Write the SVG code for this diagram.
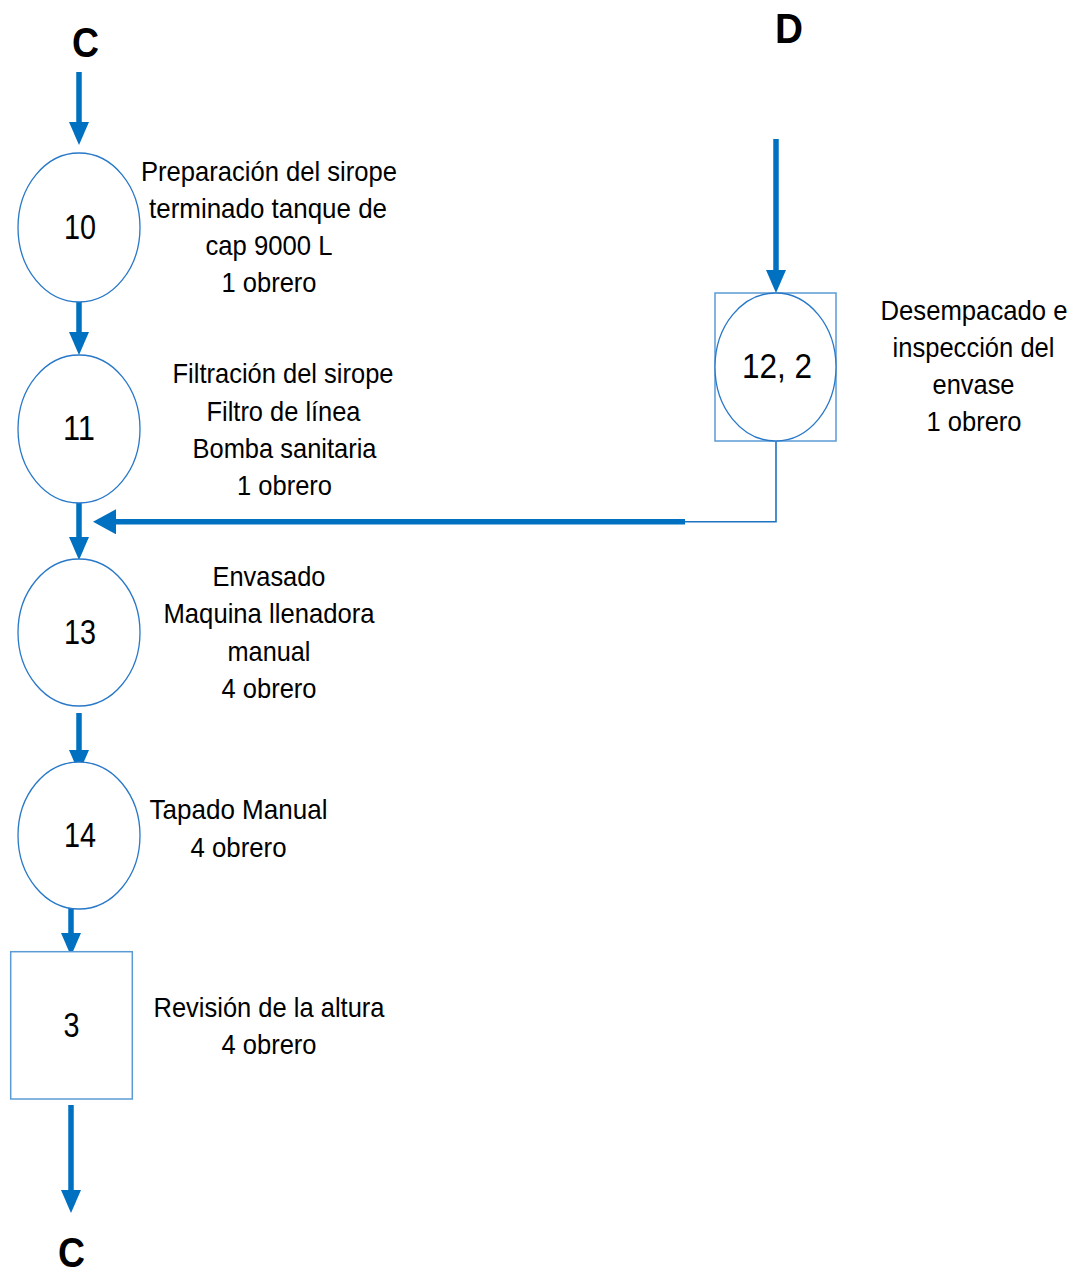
<svg xmlns="http://www.w3.org/2000/svg" width="1078" height="1270" viewBox="0 0 1078 1270">
  <style>
    text { font-family: "Liberation Sans", Arial, sans-serif; fill: #000; text-anchor: middle; }
    .lbl { font-size: 28px; }
    .num { font-size: 35px; }
    .ref { font-size: 42px; font-weight: bold; }
    .op { fill: #fff; stroke: #2878C8; stroke-width: 1.3; }
    .box { fill: #fff; stroke: #5B9BD5; stroke-width: 1.5; }
    .flow { fill: none; stroke: #0070C0; stroke-width: 5.5; }
    .thin { fill: none; stroke: #1E72C0; stroke-width: 1.6; }
  </style>
  <defs>
    <marker id="head" viewBox="0 0 23 20" refX="0" refY="10" markerWidth="23" markerHeight="20" markerUnits="userSpaceOnUse" orient="auto">
      <path d="M0,0 L23,10 L0,20 Z" fill="#0070C0"/>
    </marker>
    <marker id="headWide" viewBox="0 0 23 25" refX="0" refY="12.5" markerWidth="23" markerHeight="25" markerUnits="userSpaceOnUse" orient="auto">
      <path d="M0,0 L23,12.5 L0,25 Z" fill="#0070C0"/>
    </marker>
  </defs>

  <rect width="1078" height="1270" fill="#fff"/>

  <!-- off-page references -->
  <g id="ref-c-top"><text class="ref" x="85.5" y="57" textLength="27" lengthAdjust="spacingAndGlyphs">C</text></g>
  <g id="ref-d"><text class="ref" x="789" y="43" font-size="45" textLength="28" lengthAdjust="spacingAndGlyphs">D</text></g>
  <g id="ref-c-bottom"><text class="ref" x="71.5" y="1267" textLength="27" lengthAdjust="spacingAndGlyphs">C</text></g>

  <!-- connectors -->
  <g id="connectors">
    <line class="flow" x1="79" y1="72" x2="79" y2="122" marker-end="url(#head)"/>
    <line class="flow" x1="79" y1="293" x2="79" y2="332" marker-end="url(#head)"/>
    <line class="flow" x1="79" y1="503" x2="79" y2="537" marker-end="url(#head)"/>
    <line class="flow" x1="79" y1="713" x2="79" y2="750" marker-end="url(#head)"/>
    <line class="flow" x1="71" y1="895" x2="71" y2="933" marker-end="url(#head)"/>
    <line class="flow" x1="71" y1="1105" x2="71" y2="1190" marker-end="url(#head)"/>
    <line class="flow" x1="776" y1="139" x2="776" y2="270" marker-end="url(#head)"/>
    <path class="thin" d="M776,441 V521.8 H684"/>
    <line class="flow" x1="685" y1="521.8" x2="116" y2="521.8" marker-end="url(#headWide)"/>
  </g>

  <!-- operation 10 -->
  <g id="node-10">
    <ellipse class="op" cx="79" cy="227.5" rx="61" ry="74.5"/>
    <text class="num" x="80" y="239" textLength="32" lengthAdjust="spacingAndGlyphs">10</text>
    <text class="lbl" x="269" y="181" textLength="256" lengthAdjust="spacingAndGlyphs">Preparación del sirope</text>
    <text class="lbl" x="268" y="218" textLength="238" lengthAdjust="spacingAndGlyphs">terminado tanque de</text>
    <text class="lbl" x="269" y="255" textLength="127" lengthAdjust="spacingAndGlyphs">cap 9000 L</text>
    <text class="lbl" x="269" y="292" textLength="95" lengthAdjust="spacingAndGlyphs">1 obrero</text>
  </g>

  <!-- operation 11 -->
  <g id="node-11">
    <ellipse class="op" cx="79" cy="429" rx="61" ry="74"/>
    <text class="num" x="79" y="440" textLength="32" lengthAdjust="spacingAndGlyphs">11</text>
    <text class="lbl" x="283" y="383" textLength="221" lengthAdjust="spacingAndGlyphs">Filtración del sirope</text>
    <text class="lbl" x="283.5" y="421" textLength="154" lengthAdjust="spacingAndGlyphs">Filtro de línea</text>
    <text class="lbl" x="284.5" y="458" textLength="184" lengthAdjust="spacingAndGlyphs">Bomba sanitaria</text>
    <text class="lbl" x="284.5" y="495" textLength="95" lengthAdjust="spacingAndGlyphs">1 obrero</text>
  </g>

  <!-- combined operation / inspection 12, 2 -->
  <g id="node-12-2">
    <rect class="box" x="715" y="293" width="121" height="148"/>
    <ellipse class="op" cx="775.5" cy="367" rx="60.5" ry="74"/>
    <text class="num" x="777" y="378" textLength="70" lengthAdjust="spacingAndGlyphs">12, 2</text>
    <text class="lbl" x="974" y="320" textLength="187" lengthAdjust="spacingAndGlyphs">Desempacado e</text>
    <text class="lbl" x="973.5" y="357" textLength="162" lengthAdjust="spacingAndGlyphs">inspección del</text>
    <text class="lbl" x="973.5" y="394" textLength="82" lengthAdjust="spacingAndGlyphs">envase</text>
    <text class="lbl" x="974" y="431" textLength="95" lengthAdjust="spacingAndGlyphs">1 obrero</text>
  </g>

  <!-- operation 13 -->
  <g id="node-13">
    <ellipse class="op" cx="79" cy="632.5" rx="61" ry="73.5"/>
    <text class="num" x="80" y="644" textLength="32" lengthAdjust="spacingAndGlyphs">13</text>
    <text class="lbl" x="269" y="586" textLength="113" lengthAdjust="spacingAndGlyphs">Envasado</text>
    <text class="lbl" x="269" y="623" textLength="211" lengthAdjust="spacingAndGlyphs">Maquina llenadora</text>
    <text class="lbl" x="269" y="661" textLength="83" lengthAdjust="spacingAndGlyphs">manual</text>
    <text class="lbl" x="269" y="698" textLength="95" lengthAdjust="spacingAndGlyphs">4 obrero</text>
  </g>

  <!-- operation 14 -->
  <g id="node-14">
    <ellipse class="op" cx="79" cy="835.5" rx="61" ry="73.5"/>
    <text class="num" x="80" y="847" textLength="32" lengthAdjust="spacingAndGlyphs">14</text>
    <text class="lbl" x="238.5" y="819" textLength="178" lengthAdjust="spacingAndGlyphs">Tapado Manual</text>
    <text class="lbl" x="238.5" y="857" textLength="96" lengthAdjust="spacingAndGlyphs">4 obrero</text>
  </g>

  <!-- inspection 3 -->
  <g id="node-3">
    <rect class="box" x="10.7" y="951.7" width="121.6" height="147.3"/>
    <text class="num" x="71.5" y="1037" textLength="16" lengthAdjust="spacingAndGlyphs">3</text>
    <text class="lbl" x="269" y="1017" textLength="231" lengthAdjust="spacingAndGlyphs">Revisión de la altura</text>
    <text class="lbl" x="269" y="1054" textLength="95" lengthAdjust="spacingAndGlyphs">4 obrero</text>
  </g>
</svg>
